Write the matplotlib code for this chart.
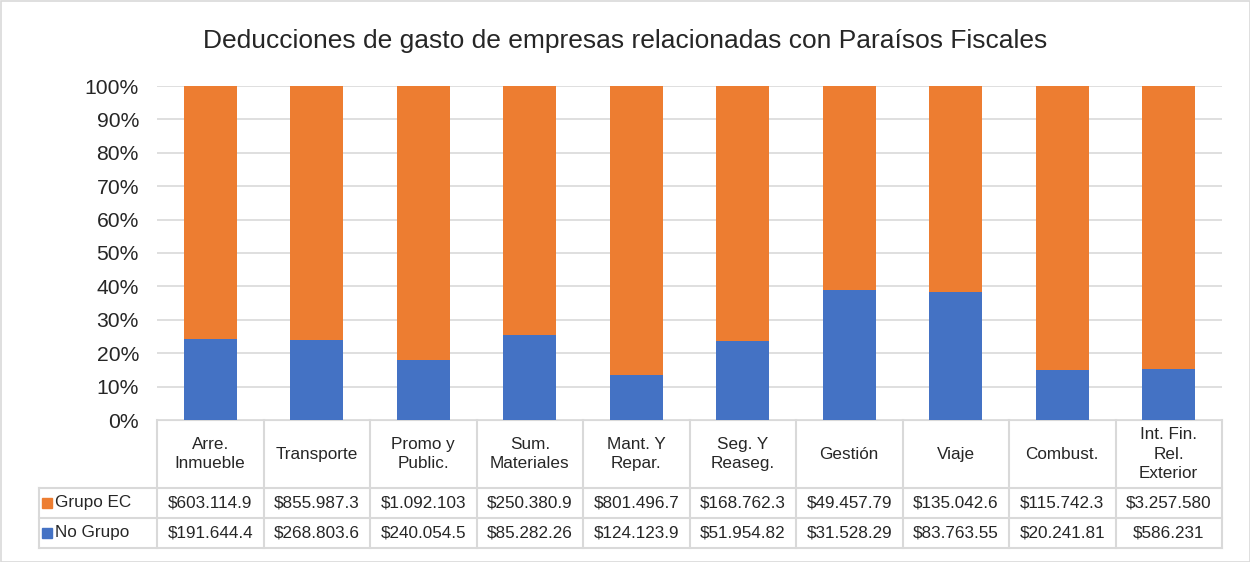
import numpy as np
import matplotlib.pyplot as plt
from matplotlib.patches import Rectangle
from matplotlib.ticker import PercentFormatter

plt.rcParams['font.family'] = ['Liberation Sans', 'DejaVu Sans']

categorias = ['Arre.\nInmueble', 'Transporte', 'Promo y\nPublic.', 'Sum.\nMateriales',
              'Mant. Y\nRepar.', 'Seg. Y\nReaseg.', 'Gestión', 'Viaje', 'Combust.',
              'Int. Fin.\nRel.\nExterior']
grupo_ec = [603114.9, 855987.3, 1092103, 250380.9, 801496.7, 168762.3,
            49457.79, 135042.6, 115742.3, 3257580]
no_grupo = [191644.4, 268803.6, 240054.5, 85282.26, 124123.9, 51954.82,
            31528.29, 83763.55, 20241.81, 586231]
etiq_grupo_ec = ['$603.114.9', '$855.987.3', '$1.092.103', '$250.380.9', '$801.496.7',
                 '$168.762.3', '$49.457.79', '$135.042.6', '$115.742.3', '$3.257.580']
etiq_no_grupo = ['$191.644.4', '$268.803.6', '$240.054.5', '$85.282.26', '$124.123.9',
                 '$51.954.82', '$31.528.29', '$83.763.55', '$20.241.81', '$586.231']

naranja = '#ED7D31'
azul = '#4472C4'
gris = '#D9D9D9'

ec = np.array(grupo_ec)
ng = np.array(no_grupo)
tot = ec + ng
x = np.arange(len(categorias))

fig = plt.figure(figsize=(12.5, 5.62), dpi=100)
ax = fig.add_axes([157 / 1250, 1 - 420 / 562, (1222 - 157) / 1250, (420 - 86) / 562])

ax.bar(x, ng / tot, width=0.5, color=azul, zorder=3)
ax.bar(x, ec / tot, width=0.5, bottom=ng / tot, color=naranja, zorder=3)

ax.set_xlim(-0.5, len(categorias) - 0.5)
ax.set_ylim(0, 1)
ax.set_yticks(np.arange(0, 1.01, 0.1))
ax.yaxis.set_major_formatter(PercentFormatter(1.0, decimals=0))
ax.tick_params(axis='y', length=0, pad=13, labelsize=15.2, colors='#262626')
ax.set_xticks([])
ax.yaxis.grid(True, color=gris, linewidth=1.2, zorder=0)
for s in ['top', 'right', 'left']:
    ax.spines[s].set_visible(False)
ax.spines['bottom'].set_color(gris)

# tabla de datos
tr = ax.get_xaxis_transform()
y_h, y_1, y_2 = -0.2036, -0.2934, -0.383
x_izq = -0.5 - (157 - 39) / 106.5
kw = dict(transform=tr, clip_on=False, color=gris, linewidth=1.5)
for xv in np.arange(-0.5, len(categorias), 1.0):
    ax.plot([xv, xv], [0, y_2], **kw)
ax.plot([x_izq, x_izq], [y_h, y_2], **kw)
for yv in [y_h, y_1, y_2]:
    ax.plot([x_izq, len(categorias) - 0.5], [yv, yv], **kw)

for i, c in enumerate(categorias):
    ax.text(i, y_h / 2, c, transform=tr, ha='center', va='center', fontsize=12.3,
            color='#262626', linespacing=1.35)
    ax.text(i, (y_h + y_1) / 2, etiq_grupo_ec[i], transform=tr, ha='center',
            va='center', fontsize=12.3, color='#262626')
    ax.text(i, (y_1 + y_2) / 2, etiq_no_grupo[i], transform=tr, ha='center',
            va='center', fontsize=12.3, color='#262626')

x_cuad = -0.5 - (157 - 47) / 106.5
x_txt = -0.5 - (157 - 55) / 106.5
for yv, col, nom in [((y_h + y_1) / 2, naranja, 'Grupo EC'), ((y_1 + y_2) / 2, azul, 'No Grupo')]:
    ax.plot([x_cuad], [yv], marker='s', markersize=6.5, color=col, transform=tr, clip_on=False)
    ax.text(x_txt, yv, nom, transform=tr, ha='left', va='center', fontsize=12.3, color='#262626')

fig.text(0.5, 1 - 41 / 562, 'Deducciones de gasto de empresas relacionadas con Paraísos Fiscales',
         ha='center', va='center', fontsize=19, color='#262626')

fig.patches.append(Rectangle((0.5 / 1250, 0.5 / 562), 1 - 1 / 1250, 1 - 1 / 562,
                             transform=fig.transFigure, fill=False, edgecolor=gris, linewidth=1.2))

fig.savefig('out.png', dpi=100)
